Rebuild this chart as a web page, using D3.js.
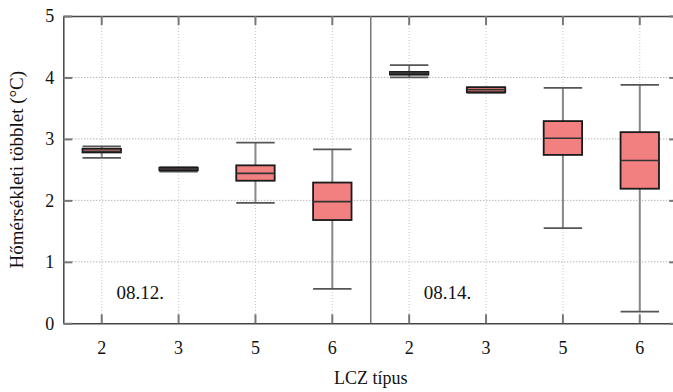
<!DOCTYPE html>
<html>
<head>
<meta charset="utf-8">
<script src="https://cdn.jsdelivr.net/npm/d3@7"></script>
<style>
  html, body { margin: 0; padding: 0; background: #fff; }
  svg, svg text { font-family: "Liberation Serif", "Times New Roman", serif; }
</style>
</head>
<body>
<div id="chart"></div>
<script>
// LCZ types and measurement days
const lczTypes = ['2', '3', '5', '6'];
const days = ['08.12.', '08.14.'];

// box stats, in order: 08.12. (2,3,5,6), 08.14. (2,3,5,6)
const whiskerLow  = [2.69, 2.47, 1.96, 0.56, 4.00, 3.75, 1.55, 0.19];
const q1          = [2.78, 2.49, 2.32, 1.68, 4.045, 3.76, 2.74, 2.19];
const median      = [2.80, 2.51, 2.44, 1.98, 4.07, 3.80, 3.01, 2.65];
const q3          = [2.84, 2.53, 2.57, 2.29, 4.09, 3.84, 3.29, 3.11];
const whiskerHigh = [2.88, 2.54, 2.94, 2.83, 4.20, 3.84, 3.83, 3.88];

const yTicks = [0, 1, 2, 3, 4, 5];

const width = 673, height = 392;
const margin = { top: 16, right: -5.2, bottom: 68.7, left: 63.3 };
const innerW = width - margin.left - margin.right;
const innerH = height - margin.top - margin.bottom;

const slots = days.flatMap(d => lczTypes.map(t => d + '|' + t));
const boxes = slots.map((s, i) => ({
  key: s,
  lo: whiskerLow[i], q1: q1[i], med: median[i], q3: q3[i], hi: whiskerHigh[i]
}));

const svg = d3.select('#chart').append('svg')
  .attr('width', width)
  .attr('height', height);

const g = svg.append('g')
  .attr('transform', `translate(${margin.left},${margin.top})`);

const x = d3.scaleBand().domain(slots).range([0, innerW]).padding(0);
const y = d3.scaleLinear().domain([0, 5]).range([innerH, 0]);
const cx = k => x(k) + x.bandwidth() / 2;
const boxW = x.bandwidth() * 0.5;

// grid
g.selectAll('.hgrid')
  .data(yTicks.slice(1, -1))
  .enter().append('line')
  .attr('x1', 0).attr('x2', innerW)
  .attr('y1', d => y(d)).attr('y2', d => y(d))
  .style('stroke', '#999')
  .style('stroke-width', 1)
  .style('stroke-dasharray', '1,2');

g.selectAll('.vgrid')
  .data(slots)
  .enter().append('line')
  .attr('x1', d => cx(d)).attr('x2', d => cx(d))
  .attr('y1', 0).attr('y2', innerH)
  .style('stroke', '#c8c8c8')
  .style('stroke-width', 1)
  .style('stroke-dasharray', '1,2');

// axes
const xAxis = g.append('g')
  .attr('transform', `translate(0,${innerH})`)
  .call(d3.axisBottom(x).tickSize(-9).tickPadding(18).tickSizeOuter(0)
    .tickFormat(d => d.split('|')[1]));

const xTop = g.append('g')
  .call(d3.axisTop(x).tickSize(-9).tickSizeOuter(0).tickFormat(''));

const yAxis = g.append('g')
  .call(d3.axisLeft(y).tickValues(yTicks).tickSize(-9).tickPadding(9).tickSizeOuter(0)
    .tickFormat(d3.format('d')));

const yRight = g.append('g')
  .attr('transform', `translate(${innerW},0)`)
  .call(d3.axisRight(y).tickValues(yTicks).tickSize(-9).tickSizeOuter(0).tickFormat(''));

[xAxis, xTop, yAxis, yRight].forEach(a => {
  a.attr('font-family', null).attr('font-size', null);
  a.select('.domain').style('stroke', '#444').style('stroke-width', 1.5);
  a.selectAll('.tick line').style('stroke', '#777').style('stroke-width', 2);
  a.selectAll('text')
    .style('font-size', '18px')
    .style('fill', '#111');
});

// separator between the two days
g.append('line')
  .attr('x1', x(slots[lczTypes.length]))
  .attr('x2', x(slots[lczTypes.length]))
  .attr('y1', 0).attr('y2', innerH)
  .style('stroke', '#777')
  .style('stroke-width', 1.5);

// whiskers
g.selectAll('.stem')
  .data(boxes)
  .enter().append('line')
  .attr('x1', d => cx(d.key)).attr('x2', d => cx(d.key))
  .attr('y1', d => y(d.hi)).attr('y2', d => y(d.lo))
  .style('stroke', '#888')
  .style('stroke-width', 2);

['lo', 'hi'].forEach(k => {
  g.selectAll('.cap-' + k)
    .data(boxes)
    .enter().append('line')
    .attr('x1', d => cx(d.key) - boxW / 2)
    .attr('x2', d => cx(d.key) + boxW / 2)
    .attr('y1', d => y(d[k])).attr('y2', d => y(d[k]))
    .style('stroke', '#555')
    .style('stroke-width', 1.8);
});

// boxes
g.selectAll('.box')
  .data(boxes)
  .enter().append('rect')
  .attr('x', d => cx(d.key) - boxW / 2)
  .attr('y', d => y(d.q3))
  .attr('width', boxW)
  .attr('height', d => y(d.q1) - y(d.q3))
  .style('fill', '#f28080')
  .style('stroke', '#1a1a1a')
  .style('stroke-width', 1.8);

g.selectAll('.med')
  .data(boxes)
  .enter().append('line')
  .attr('x1', d => cx(d.key) - boxW / 2)
  .attr('x2', d => cx(d.key) + boxW / 2)
  .attr('y1', d => y(d.med)).attr('y2', d => y(d.med))
  .style('stroke', '#333')
  .style('stroke-width', 1.6);

// day labels
g.selectAll('.day')
  .data(days)
  .enter().append('text')
  .attr('x', d => (cx(d + '|' + lczTypes[0]) + cx(d + '|' + lczTypes[1])) / 2)
  .attr('y', y(0.4))
  .attr('text-anchor', 'middle')
  .style('font-size', '19px')
  .style('fill', '#111')
  .text(d => d);

// axis titles
svg.append('text')
  .attr('x', margin.left + x(slots[lczTypes.length]))
  .attr('y', 384)
  .attr('text-anchor', 'middle')
  .style('font-size', '18px')
  .style('fill', '#111')
  .text('LCZ típus');

svg.append('text')
  .attr('transform', `translate(23,${margin.top + innerH / 2}) rotate(-90)`)
  .attr('text-anchor', 'middle')
  .style('font-size', '19px')
  .style('fill', '#111')
  .text('Hőmérsékleti többlet (°C)');
</script>
</body>
</html>
